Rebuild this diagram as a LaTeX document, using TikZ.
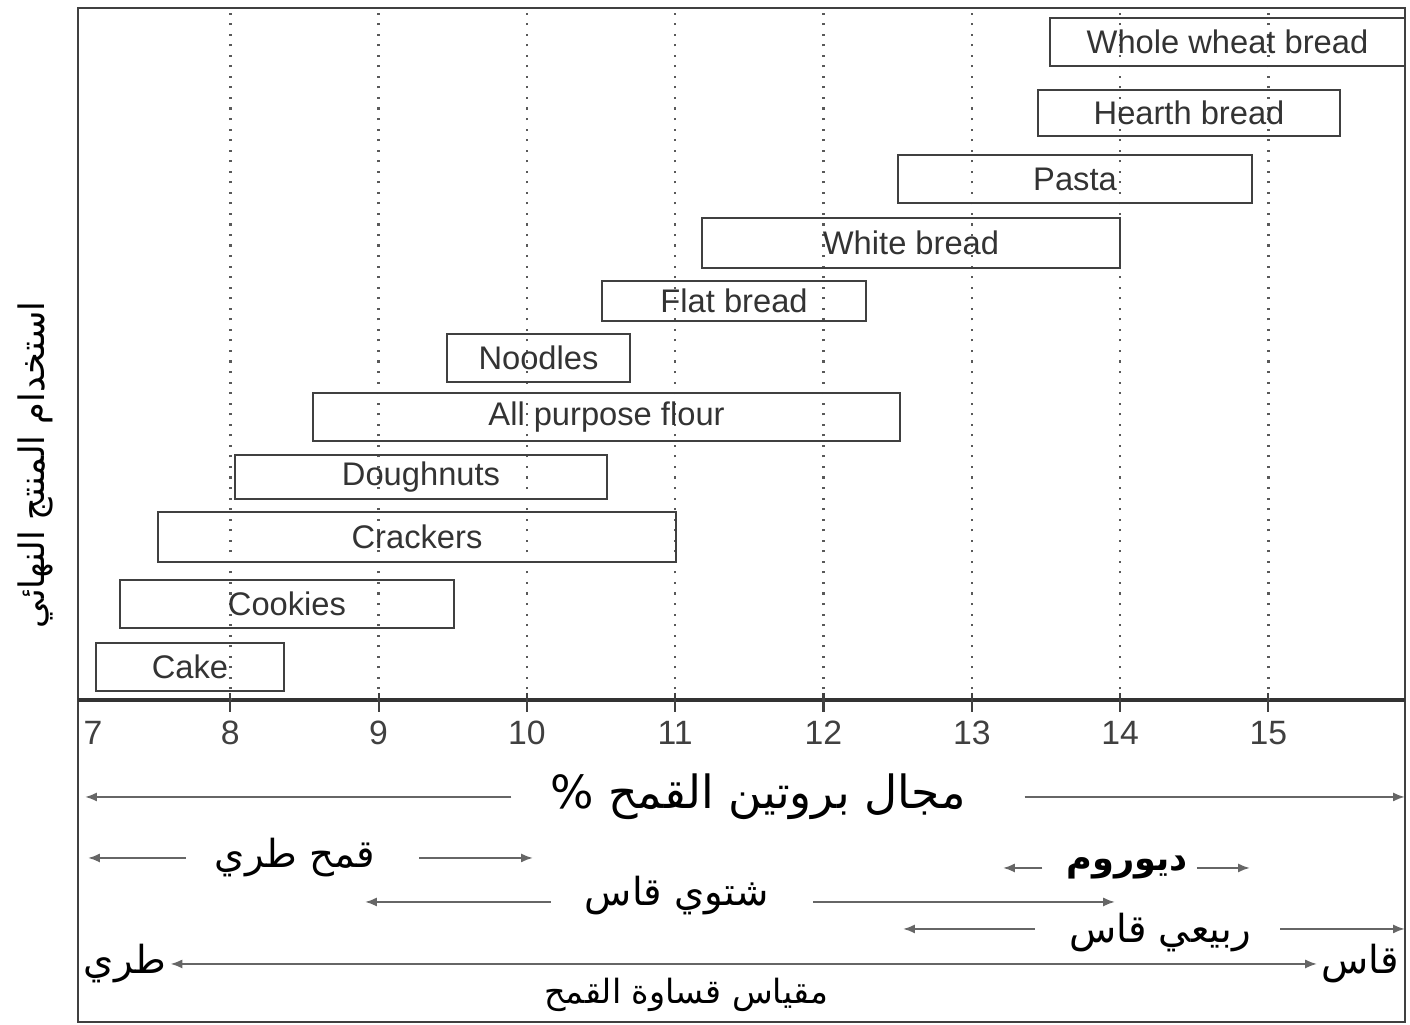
\documentclass[tikz,border=0pt]{standalone}
\usepackage{fontspec}
\setmainfont{Liberation Sans}
\newfontfamily\arabicfont[Script=Arabic]{DejaVu Sans}
\TeXXeTstate=1
\usetikzlibrary{arrows.meta}
\tikzset{
	prodbox/.style={
			draw=black!75, line width=0.6pt, inner sep=0pt,
			minimum height=0.48cm, text=black!80,
			font=\fontsize{9.3}{11}\selectfont},
	gridline/.style={black!65, line width=0.7pt, dash pattern=on 0.6pt off 2.4pt},
	ticklabel/.style={text=black!75, font=\fontsize{9.6}{11}\selectfont},
	rangearrow/.style={black!60, line width=0.6pt, -{Latex[length=3.4pt,width=2.6pt]}},
	artext/.style={font=\arabicfont\fontsize{#1}{#1}\selectfont, inner sep=1pt}
}

\begin{document}
\begin{tikzpicture}[x=1.483cm, y=1cm]
		\useasboundingbox (6.447,-3.25) rectangle (15.955,7.0);

		% Draw the frame and the protein axis
		\draw[black!75, line width=0.6pt] (6.973,-3.22) rectangle (15.921,6.92);
		\draw[black!80, line width=0.9pt] (6.973,0) -- (15.921,0);

		% Draw the grid lines, ticks and tick labels
		\node[ticklabel] (t7) at (7.074,-0.33) {7};
		\foreach \v in {8,...,15} {
				\draw[gridline] (\v,0) -- (\v,6.92);
				\draw[black!75, line width=0.6pt] (\v,0.07) -- (\v,-0.12);
				\node[ticklabel] (t\v) at (\v,-0.33) {\v};
			}

		% Draw the product ranges
		\node[prodbox, minimum width=3.55cm, minimum height=0.48cm] (wheat) at (14.724,6.58) {Whole wheat bread};
		\node[prodbox, minimum width=3.02cm, minimum height=0.46cm] (hearth) at (14.465,5.87) {Hearth bread};
		\node[prodbox, minimum width=3.54cm, minimum height=0.48cm] (pasta) at (13.696,5.21) {Pasta};
		\node[prodbox, minimum width=4.18cm, minimum height=0.50cm] (white) at (12.590,4.57) {White bread};
		\node[prodbox, minimum width=2.64cm, minimum height=0.40cm] (flat) at (11.397,3.99) {Flat bread};
		\node[prodbox, minimum width=1.83cm, minimum height=0.48cm] (noodles) at (10.078,3.42) {Noodles};
		\node[prodbox, minimum width=5.87cm, minimum height=0.48cm] (allpurpose) at (10.537,2.83) {All purpose flour};
		\node[prodbox, minimum width=3.72cm, minimum height=0.44cm] (doughnuts) at (9.286,2.23) {Doughnuts};
		\node[prodbox, minimum width=5.18cm, minimum height=0.50cm] (crackers) at (9.259,1.63) {Crackers};
		\node[prodbox, minimum width=3.34cm, minimum height=0.48cm] (cookies) at (8.382,0.96) {Cookies};
		\node[prodbox, minimum width=1.88cm, minimum height=0.48cm] (cake) at (7.728,0.33) {Cake};

		% Axis titles
		\node[artext=10, rotate=90] (uselabel) at (6.683,2.35) {\beginR استخدام المنتج النهائي\endR};
		\node[artext=13] (protein) at (11.558,-0.97) {\beginR مجال بروتين القمح \%\endR};
		\coordinate (proteinL) at (7.02,-0.97);
		\coordinate (proteinR) at (15.921,-0.97);
		\draw[rangearrow, shorten <=0.35cm] (protein.west) -- (proteinL);
		\draw[rangearrow, shorten <=0.55cm] (protein.east) -- (proteinR);

		% Wheat classes
		\node[artext=11] (softwheat) at (8.436,-1.58) {\beginR قمح طري\endR};
		\coordinate (softL) at (7.04,-1.58);
		\coordinate (softR) at (10.041,-1.58);
		\draw[rangearrow, shorten <=0.25cm] (softwheat.west) -- (softL);
		\draw[rangearrow, shorten <=0.4cm] (softwheat.east) -- (softR);

		\node[artext=10] (durum) at (14.047,-1.68) {\bfseries\beginR ديوروم\endR};
		\coordinate (durumL) at (13.210,-1.68);
		\coordinate (durumR) at (14.876,-1.68);
		\draw[rangearrow, shorten <=0.2cm] (durum.west |- durumL) -- (durumL);
		\draw[rangearrow, shorten <=0.05cm] (durum.east |- durumR) -- (durumR);

		\node[artext=11] (winter) at (11.012,-1.96) {\beginR شتوي قاس\endR};
		\coordinate (winterL) at (8.908,-2.02);
		\coordinate (winterR) at (13.966,-2.02);
		\draw[rangearrow, shorten <=0.3cm] (winter.west |- winterL) -- (winterL);
		\draw[rangearrow, shorten <=0.4cm] (winter.east |- winterR) -- (winterR);

		\node[artext=11] (spring) at (14.269,-2.33) {\beginR ربيعي قاس\endR};
		\coordinate (springL) at (12.536,-2.29);
		\coordinate (springR) at (15.921,-2.29);
		\draw[rangearrow, shorten <=0.3cm] (spring.west |- springL) -- (springL);
		\draw[rangearrow, shorten <=0.25cm] (spring.east |- springR) -- (springR);

		% Hardness scale
		\node[artext=11] (soft) at (7.290,-2.64) {\beginR طري\endR};
		\node[artext=11] (hard) at (15.618,-2.64) {\beginR قاس\endR};
		\draw[rangearrow, {Latex[length=3.4pt,width=2.6pt]}-{Latex[length=3.4pt,width=2.6pt]}] (soft.east) -- (hard.west);
		\node[artext=9.5] (hardness) at (11.073,-2.95) {\beginR مقياس قساوة القمح\endR};
	\end{tikzpicture}
\end{document}
